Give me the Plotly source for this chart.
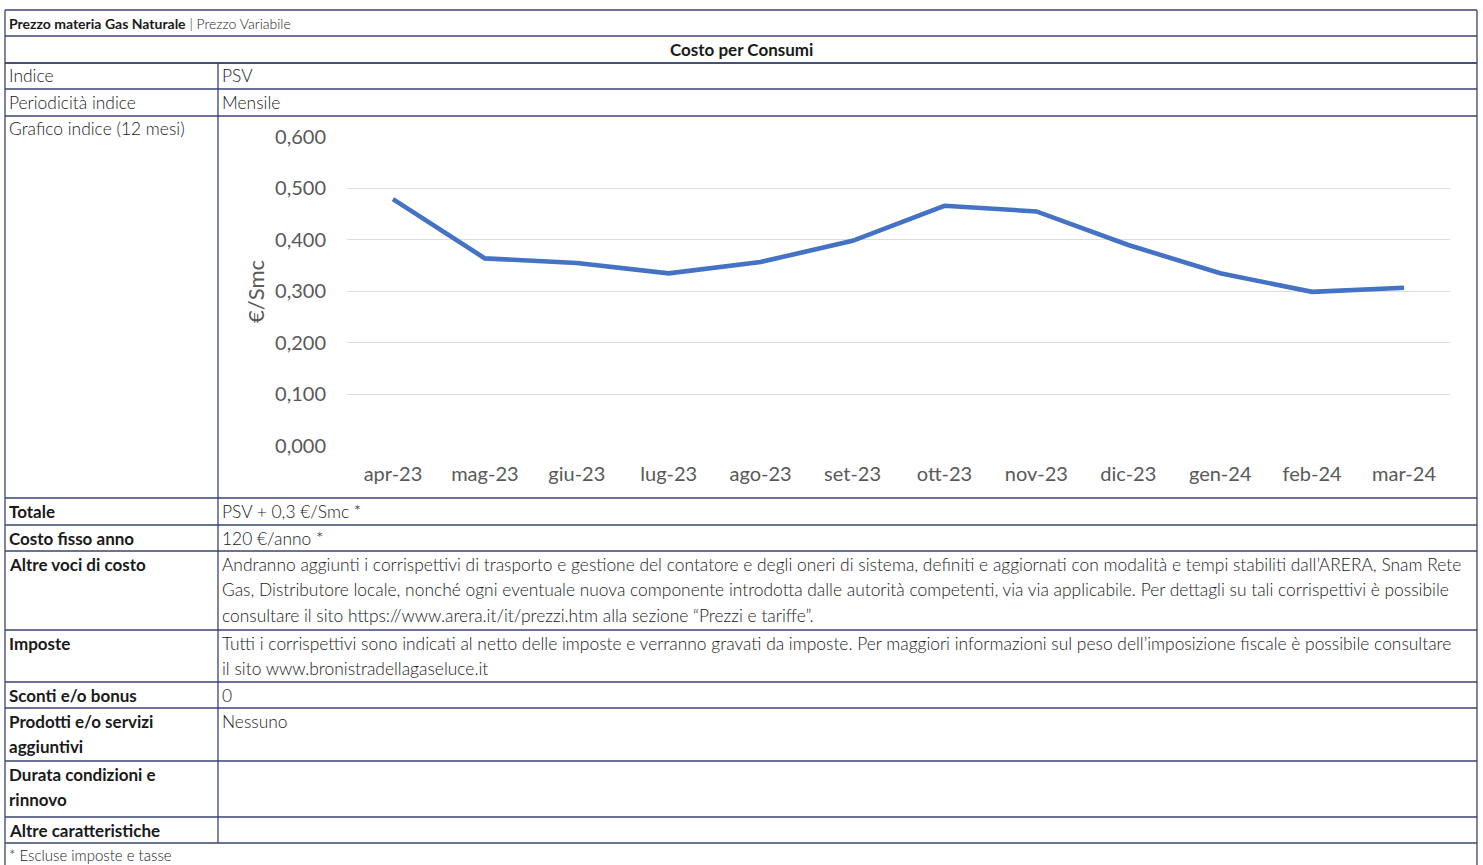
import plotly.graph_objects as go

W, H = 1483, 865

# ---------------- data ----------------
months = ["apr-23", "mag-23", "giu-23", "lug-23", "ago-23", "set-23",
          "ott-23", "nov-23", "dic-23", "gen-24", "feb-24", "mar-24"]
psv = [0.479, 0.364, 0.355, 0.335, 0.357, 0.398,
       0.466, 0.455, 0.390, 0.335, 0.299, 0.307]
y_tick_vals = [0.0, 0.1, 0.2, 0.3, 0.4, 0.5, 0.6]
y_tick_text = ["0,000", "0,100", "0,200", "0,300", "0,400", "0,500", "0,600"]
y_title = "€/Smc"

title_bold = "Prezzo materia Gas Naturale"
title_rest = "Prezzo Variabile"
section_title = "Costo per Consumi"
footnote = "* Escluse imposte e tasse"

row_labels = [
    ["Indice"],
    ["Periodicità indice"],
    ["Grafico indice (12 mesi)"],
    ["Totale"],
    ["Costo fisso anno"],
    ["Altre voci di costo"],
    ["Imposte"],
    ["Sconti e/o bonus"],
    ["Prodotti e/o servizi", "aggiuntivi"],
    ["Durata condizioni e", "rinnovo"],
    ["Altre caratteristiche"],
]
row_bold = [False, False, False, True, True, True, True, True, True, True, True]
row_values = [
    ["PSV"],
    ["Mensile"],
    [],
    ["PSV + 0,3 €/Smc *"],
    ["120 €/anno *"],
    ["Andranno aggiunti i corrispettivi di trasporto e gestione del contatore e degli oneri di sistema, definiti e aggiornati con modalità e tempi stabiliti dall’ARERA, Snam Rete",
     "Gas, Distributore locale, nonché ogni eventuale nuova componente introdotta dalle autorità competenti, via via applicabile. Per dettagli su tali corrispettivi è possibile",
     "consultare il sito https://www.arera.it/it/prezzi.htm alla sezione “Prezzi e tariffe”."],
    ["Tutti i corrispettivi sono indicati al netto delle imposte e verranno gravati da imposte. Per maggiori informazioni sul peso dell’imposizione fiscale è possibile consultare",
     "il sito www.bronistradellagaseluce.it"],
    ["0"],
    ["Nessuno"],
    [],
    [],
]

# ---------------- layout geometry (pixels) ----------------
X_LEFT, X_RIGHT, X_DIV = 5, 1477, 218
TOP_LINES = [10, 36, 63]
ROW_EDGES = [63, 89, 116, 498, 525, 551, 630, 682, 708, 761, 817, 843]
LINE_STEP = 25.5
FONT = "Lato"
TXT = "#1a1a1a"
BORDER = "#3A4470"
FS_LIGHT = 17.4
FS_BOLD = 17


def px(x):
    return x / W


def py(y):
    return 1 - y / H


fig = go.Figure()

fig.add_trace(go.Scatter(
    x=months, y=psv, mode="lines",
    line=dict(color="#4472C4", width=4.6),
    hoverinfo="skip", showlegend=False,
))

shapes = []


def hline(y, x0=X_LEFT, x1=X_RIGHT):
    shapes.append(dict(type="line", xref="paper", yref="paper",
                       x0=px(x0), x1=px(x1), y0=py(y), y1=py(y),
                       line=dict(color=BORDER, width=1.3)))


def vline(x, y0, y1):
    shapes.append(dict(type="line", xref="paper", yref="paper",
                       x0=px(x), x1=px(x), y0=py(y0), y1=py(y1),
                       line=dict(color=BORDER, width=1.3)))


for y in TOP_LINES + ROW_EDGES:
    hline(y)
vline(X_LEFT, TOP_LINES[0], H)
vline(X_RIGHT, TOP_LINES[0], H)
vline(X_DIV, ROW_EDGES[0], ROW_EDGES[-1])

annotations = []


def text(x, y, s, bold=False, anchor="left", size=None):
    if size is None:
        size = FS_BOLD if bold else FS_LIGHT
    annotations.append(dict(
        x=px(x), y=py(y), xref="paper", yref="paper", text=s,
        showarrow=False, xanchor=anchor, yanchor="middle",
        font=dict(family=FONT, size=size, color=TXT,
                  weight=700 if bold else 300),
    ))


text(7, 23, f"<b>{title_bold}</b> | {title_rest}", size=14)
text((X_LEFT + X_RIGHT) / 2, 49.5, section_title, bold=True, anchor="center")

for i, (labs, vals) in enumerate(zip(row_labels, row_values)):
    top = ROW_EDGES[i]
    for j, s in enumerate(labs):
        text(7, top + 13 + j * LINE_STEP, s, bold=row_bold[i])
    for j, s in enumerate(vals):
        text(220, top + 13 + j * LINE_STEP, s)

text(7, 855, footnote, size=15)

# y-axis title of chart
annotations.append(dict(
    x=px(255), y=py(292), xref="paper", yref="paper", text=y_title,
    showarrow=False, textangle=-90, xanchor="center", yanchor="middle",
    font=dict(family=FONT, size=22, color="#595959"),
))

fig.update_layout(
    width=W, height=H, autosize=False,
    margin=dict(l=0, r=0, t=0, b=0, pad=0),
    paper_bgcolor="white", plot_bgcolor="white",
    shapes=shapes, annotations=annotations,
    showlegend=False,
    xaxis=dict(
        type="category", domain=[px(347), px(1450)], range=[-0.5, 11.5],
        showgrid=False, zeroline=False, showline=False, automargin=False,
        ticks="outside", ticklen=10, tickcolor="rgba(0,0,0,0)",
        tickfont=dict(family=FONT, size=20, color="#595959"),
        fixedrange=True,
    ),
    yaxis=dict(
        domain=[py(446), py(136.7)], range=[0, 0.6],
        tickvals=y_tick_vals, ticktext=y_tick_text,
        showgrid=True, gridcolor="#DDDDDD", gridwidth=1.2,
        zeroline=False, showline=False, automargin=False,
        ticks="outside", ticklen=16, tickcolor="rgba(0,0,0,0)",
        tickfont=dict(family=FONT, size=20, color="#595959"),
        fixedrange=True,
    ),
)

fig.write_html(
    "out.html",
    config={"displayModeBar": False},
    post_script="document.body.style.margin='0';"
                "document.documentElement.style.overflow='hidden';"
                "document.body.style.overflow='hidden';",
)
